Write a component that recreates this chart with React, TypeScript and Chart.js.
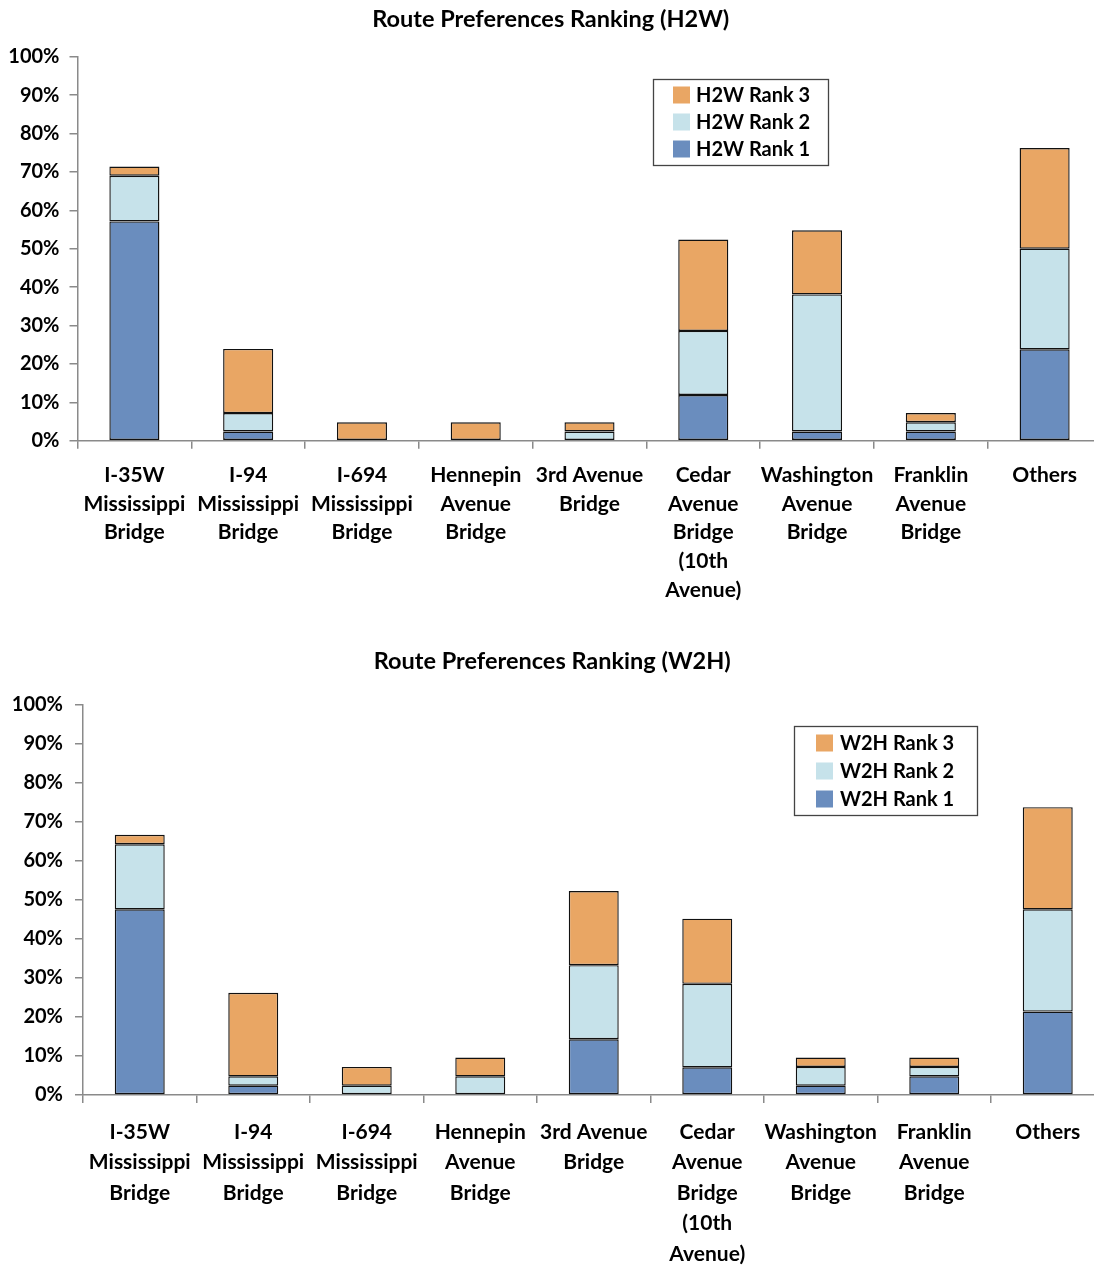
import React, { useEffect, useRef } from "react";
import { Chart, registerables } from "chart.js";

Chart.register(...registerables);

const categories: string[][] = [
  ["I-35W", "Mississippi", "Bridge"],
  ["I-94", "Mississippi", "Bridge"],
  ["I-694", "Mississippi", "Bridge"],
  ["Hennepin", "Avenue", "Bridge"],
  ["3rd Avenue", "Bridge"],
  ["Cedar", "Avenue", "Bridge", "(10th", "Avenue)"],
  ["Washington", "Avenue", "Bridge"],
  ["Franklin", "Avenue", "Bridge"],
  ["Others"],
];

const h2wRank1 = [57.1, 2.4, 0, 0, 0, 11.9, 2.4, 2.4, 23.8];
const h2wRank2 = [11.9, 4.8, 0, 0, 2.4, 16.7, 35.7, 2.4, 26.2];
const h2wRank3 = [2.4, 16.7, 4.8, 4.8, 2.4, 23.8, 16.7, 2.4, 26.2];

const w2hRank1 = [47.6, 2.4, 0, 0, 14.3, 7.1, 2.4, 4.8, 21.4];
const w2hRank2 = [16.7, 2.4, 2.4, 4.8, 19.0, 21.4, 4.8, 2.4, 26.2];
const w2hRank3 = [2.4, 21.4, 4.8, 4.8, 19.0, 16.7, 2.4, 2.4, 26.2];

const yTicks = [0, 10, 20, 30, 40, 50, 60, 70, 80, 90, 100];

const COLOR_R1 = "#6a8dbe";
const COLOR_R2 = "#c6e2ea";
const COLOR_R3 = "#e9a664";
const FONT = "Lato, 'Open Sans', sans-serif";

const boxLegendPlugin = {
  id: "boxLegend",
  afterDraw(chart: any, _args: any, opts: any) {
    if (!opts || !opts.display) return;
    const ctx = chart.ctx;
    ctx.save();
    ctx.fillStyle = "#ffffff";
    ctx.fillRect(opts.left, opts.top, opts.width, opts.height);
    ctx.strokeStyle = "#444";
    ctx.lineWidth = 1.3;
    ctx.strokeRect(opts.left, opts.top, opts.width, opts.height);
    const ds = chart.data.datasets.slice().reverse();
    ctx.font = `bold ${opts.fontSize}px ${FONT}`;
    ctx.textBaseline = "middle";
    ctx.textAlign = "left";
    ds.forEach((d: any, i: number) => {
      const cy = opts.firstRow + i * opts.rowGap;
      ctx.fillStyle = d.backgroundColor;
      ctx.fillRect(opts.swatchX, cy - opts.swatch / 2, opts.swatch, opts.swatch);
      ctx.fillStyle = "#000";
      ctx.fillText(d.label, opts.textX, cy + 1);
    });
    ctx.restore();
  },
};

type Cfg = {
  title: string;
  prefix: string;
  r1: number[];
  r2: number[];
  r3: number[];
  width: number;
  height: number;
  padRight: number;
  axisLeft: number;
  plotTop: number;
  plotBottom: number;
  titlePadTop: number;
  yPad: number;
  xPad: number;
  labelFont: number;
  tickFont: number;
  labelLine: number;
  legend: any;
};

function StackChart({ cfg }: { cfg: Cfg }) {
  const ref = useRef<HTMLCanvasElement | null>(null);
  useEffect(() => {
    if (!ref.current) return;
    const titleFont = 23.5;
    const titleLH = titleFont * 1.2;
    const padBottom = cfg.plotTop - cfg.titlePadTop - titleLH;
    const mk = (label: string, data: number[], color: string) => ({
      label,
      data: data.map((v) => (v === 0 ? null : v)),
      backgroundColor: color,
      borderColor: "#111111",
      borderWidth: 1.4,
      borderSkipped: false,
      barPercentage: 0.44,
      categoryPercentage: 1,
    });
    const chart = new Chart(ref.current, {
      type: "bar",
      data: {
        labels: categories,
        datasets: [
          mk(`${cfg.prefix} Rank 1`, cfg.r1, COLOR_R1),
          mk(`${cfg.prefix} Rank 2`, cfg.r2, COLOR_R2),
          mk(`${cfg.prefix} Rank 3`, cfg.r3, COLOR_R3),
        ],
      },
      options: {
        animation: false,
        responsive: false,
        maintainAspectRatio: false,
        layout: { padding: { left: 0, right: cfg.padRight, top: 0, bottom: 0 } },
        plugins: {
          legend: { display: false },
          tooltip: { enabled: false },
          title: {
            display: true,
            text: cfg.title,
            color: "#000",
            font: { family: FONT, size: titleFont, weight: "bold", lineHeight: 1.2 },
            padding: { top: cfg.titlePadTop, bottom: padBottom },
          },
          boxLegend: cfg.legend,
        } as any,
        scales: {
          x: {
            stacked: true,
            offset: true,
            grid: {
              display: true,
              offset: true,
              drawOnChartArea: false,
              drawTicks: true,
              tickLength: 8,
              color: "#8a8a8a",
              lineWidth: 1.5,
            },
            border: { display: true, color: "#8a8a8a", width: 1.5 },
            ticks: {
              autoSkip: false,
              maxRotation: 0,
              minRotation: 0,
              color: "#000",
              padding: cfg.xPad,
              font: { family: FONT, size: cfg.labelFont, weight: "bold", lineHeight: cfg.labelLine },
            },
            afterFit: (s: any) => {
              s.height = cfg.height - cfg.plotBottom;
            },
          },
          y: {
            stacked: true,
            min: yTicks[0],
            max: yTicks[yTicks.length - 1],
            afterBuildTicks: (s: any) => {
              s.ticks = yTicks.map((v) => ({ value: v }));
            },
            grid: {
              display: true,
              drawOnChartArea: false,
              drawTicks: true,
              tickLength: 8,
              color: "#8a8a8a",
              lineWidth: 1.5,
            },
            border: { display: true, color: "#8a8a8a", width: 1.5 },
            ticks: {
              color: "#000",
              padding: cfg.yPad,
              font: { family: FONT, size: cfg.tickFont, weight: "bold" },
              callback: (v: any) => `${v}%`,
            },
            afterFit: (s: any) => {
              s.width = cfg.axisLeft;
            },
          },
        },
      },
      plugins: [boxLegendPlugin],
    } as any);
    return () => chart.destroy();
  }, [cfg]);
  return (
    <canvas
      ref={ref}
      width={cfg.width}
      height={cfg.height}
      style={{ display: "block", width: cfg.width, height: cfg.height }}
    />
  );
}

const topCfg: Cfg = {
  title: "Route Preferences Ranking (H2W)",
  prefix: "H2W",
  r1: h2wRank1,
  r2: h2wRank2,
  r3: h2wRank3,
  width: 1118,
  height: 640,
  padRight: 16.5,
  axisLeft: 77.5,
  plotTop: 56.7,
  plotBottom: 440.7,
  titlePadTop: 5,
  yPad: 10,
  xPad: 12,
  labelFont: 21,
  tickFont: 20,
  labelLine: 1.37,
  legend: {
    display: true,
    left: 653.5,
    top: 79.5,
    width: 175,
    height: 86,
    swatchX: 673,
    swatch: 17,
    textX: 696,
    firstRow: 95,
    rowGap: 27,
    fontSize: 20,
  },
};

const bottomCfg: Cfg = {
  title: "Route Preferences Ranking (W2H)",
  prefix: "W2H",
  r1: w2hRank1,
  r2: w2hRank2,
  r3: w2hRank3,
  width: 1117,
  height: 626,
  padRight: 12.5,
  axisLeft: 83,
  plotTop: 65,
  plotBottom: 455,
  titlePadTop: 7,
  yPad: 12,
  xPad: 14,
  labelFont: 21,
  tickFont: 20,
  labelLine: 1.45,
  legend: {
    display: true,
    left: 794.5,
    top: 86.5,
    width: 183,
    height: 89,
    swatchX: 816,
    swatch: 17,
    textX: 840,
    firstRow: 103,
    rowGap: 28,
    fontSize: 20,
  },
};

export default function App() {
  return (
    <div
      style={{
        position: "absolute",
        left: 0,
        top: 0,
        width: 1094,
        height: 1266,
        overflow: "hidden",
        background: "#fff",
      }}
    >
      <div style={{ position: "absolute", left: 0, top: 0 }}>
        <StackChart cfg={topCfg} />
      </div>
      <div style={{ position: "absolute", left: 0, top: 640 }}>
        <StackChart cfg={bottomCfg} />
      </div>
    </div>
  );
}
